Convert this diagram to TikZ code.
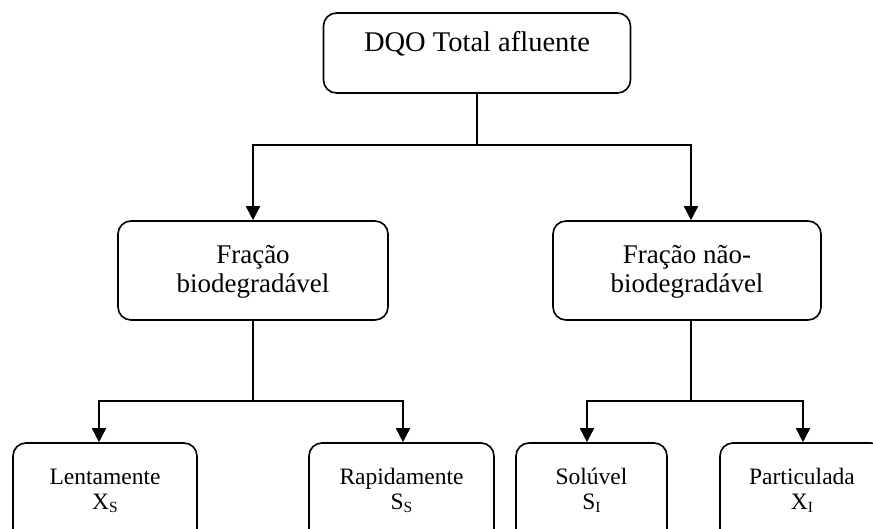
\documentclass[tikz,border=0pt]{standalone}
\usepackage{fontspec}
\setmainfont{Liberation Serif}
\usetikzlibrary{arrows.meta}
% subscript index set by hand, as in the source layout
\newcommand\idx[1]{\raisebox{-3pt}{\fontsize{15.5}{15.5}\selectfont #1}}
\begin{document}
\begin{tikzpicture}[x=1pt,y=-1pt,
  box/.style={draw, line width=1.6pt, rounded corners=13pt, inner sep=0pt},
  conn/.style={line width=1.6pt},
  arr/.style={conn, -{Triangle[length=14pt,width=14pt]}},
  lbl/.style={inner sep=0pt, anchor=base},
  bigtxt/.style={font=\fontsize{28.5}{34}\selectfont},
  midtxt/.style={font=\fontsize{27}{31}\selectfont},
  smltxt/.style={font=\fontsize{23.5}{27}\selectfont}]
\useasboundingbox (0,0) rectangle (873,529);
\clip (0,0) rectangle (873,529);

% top level
\node[box, minimum width=307pt, minimum height=80pt] (total) at (477,53) {};
\node[lbl,bigtxt] (totalt) at (477,52) {DQO Total afluente};

% second level
\node[box, minimum width=270pt, minimum height=99pt] (bio) at (253,270.5) {};
\node[lbl,midtxt] (bioa) at (253,264) {Fração};
\node[lbl,midtxt] (biob) at (253,293) {biodegradável};

\node[box, minimum width=268pt, minimum height=99pt] (nbio) at (687,270.5) {};
\node[lbl,midtxt] (nbioa) at (687,264) {Fração não-};
\node[lbl,midtxt] (nbiob) at (687,293) {biodegradável};

% third level
\node[box, minimum width=184pt, minimum height=102pt] (lent) at (105,494) {};
\node[lbl,smltxt] (lenta) at (105,484) {Lentamente};
\node[lbl,smltxt] (lentb) at (105,509) {X\idx{S}};

\node[box, minimum width=185pt, minimum height=102pt] (rap) at (401.5,494) {};
\node[lbl,smltxt] (rapa) at (401.5,484) {Rapidamente};
\node[lbl,smltxt] (rapb) at (401.5,509) {S\idx{S}};

\node[box, minimum width=151pt, minimum height=102pt] (sol) at (591.5,494) {};
\node[lbl,smltxt] (sola) at (591.5,484) {Solúvel};
\node[lbl,smltxt] (solb) at (591.5,509) {S\idx{I}};

\node[box, minimum width=164pt, minimum height=102pt] (part) at (802,494) {};
\node[lbl,smltxt] (parta) at (802,484) {Particulada};
\node[lbl,smltxt] (partb) at (802,509) {X\idx{I}};

% connectors
\draw[conn] (total.south) -- ++(0,51) coordinate (j1);
\draw[arr] (j1) -| (bio.north);
\draw[arr] (j1) -| ([xshift=4pt]nbio.north);

\draw[conn] (bio.south) -- ++(0,80) coordinate (j2);
\draw[arr] (j2) -| ([xshift=-6pt]lent.north);
\draw[arr] (j2) -| ([xshift=1.5pt]rap.north);

\draw[conn] ([xshift=4pt]nbio.south) -- ++(0,80) coordinate (j3);
\draw[arr] (j3) -| ([xshift=-4.5pt]sol.north);
\draw[arr] (j3) -| ([xshift=1pt]part.north);
\end{tikzpicture}
\end{document}
